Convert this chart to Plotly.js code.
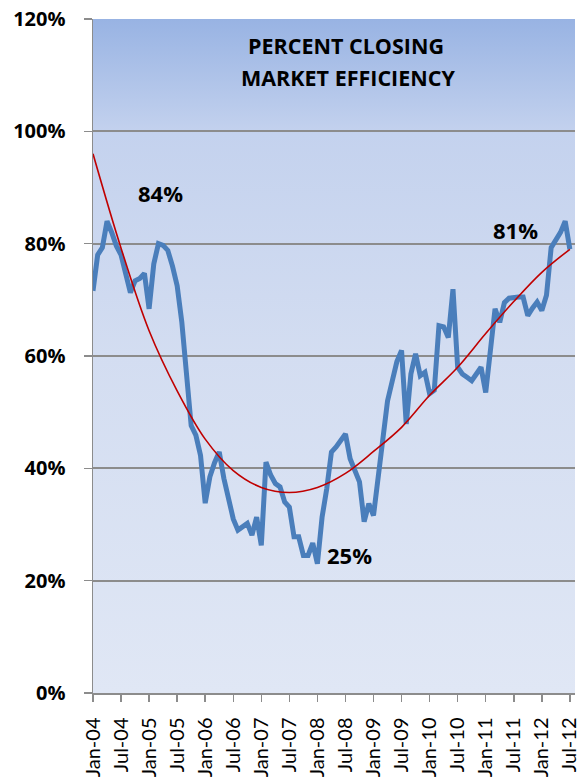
<!DOCTYPE html>
<html>
<head>
<meta charset="utf-8">
<script src="https://cdn.plot.ly/plotly-3.0.1.min.js"></script>
<style>
  html, body { margin: 0; padding: 0; background: #ffffff; }
  #wrap { position: relative; width: 582px; height: 780px; overflow: hidden; }
  #bg { position: absolute; left: 93px; top: 19px; width: 482px; height: 674px;
        background: linear-gradient(to bottom, #98b3e3 0%, #c4d2ee 17%, #d3ddf1 50%, #e0e7f5 100%); }
  #chart { position: absolute; left: 0; top: 0; width: 582px; height: 780px; }
</style>
</head>
<body>
<div id="wrap">
  <div id="bg"></div>
  <div id="chart"></div>
</div>
<script>
// Monthly percent closing market efficiency, Jan-04 .. Jul-12
const values2004 = [71.6, 78, 79.3, 84, 82, 79.6, 78, 75, 71.3, 73.4, 73.8, 74.7];
const values2005 = [68.4, 76.4, 80, 79.7, 78.8, 76, 72.5, 66, 57.5, 47.6, 45.9, 42.3];
const values2006 = [33.8, 38.5, 41, 42.9, 38.2, 35, 31, 29, 29.6, 30.2, 28.1, 31.3];
const values2007 = [26.3, 41.1, 38.8, 37.3, 36.7, 34, 33.1, 27.8, 27.8, 24.5, 24.5, 26.7];
const values2008 = [23, 31.3, 36.4, 42.9, 43.8, 45, 46.1, 41.7, 39.5, 37.6, 30.5, 33.7];
const values2009 = [31.6, 38.5, 46, 52, 55.5, 59, 61, 47.9, 56.8, 60.4, 56.5, 57.1];
const values2010 = [53.3, 53.9, 65.4, 65.2, 63.3, 71.9, 58, 56.8, 56.2, 55.6, 56.8, 58];
const values2011 = [53.5, 62, 68.4, 66, 69.5, 70.3, 70.5, 70.5, 70.5, 67.2, 68.5, 69.6];
const values2012 = [68.1, 70.8, 79.3, 80.5, 82, 84, 79];

const efficiency = [].concat(values2004, values2005, values2006, values2007,
                             values2008, values2009, values2010, values2011, values2012);
const monthIndex = efficiency.map((_, i) => i);

// Polynomial trend line every six months
const trendMonths = [0, 6, 12, 18, 24, 30, 36, 42, 48, 54, 60, 66, 72, 78, 84, 90, 96, 102];
const trendValues = [96, 79.2, 64.5, 53.8, 45.2, 39.6, 36.6, 35.7, 36.6, 39.1, 43, 47.3, 53, 58, 64, 69.7, 74.9, 79];

const tickMonths = [0, 6, 12, 18, 24, 30, 36, 42, 48, 54, 60, 66, 72, 78, 84, 90, 96, 102];
const tickLabels = ['Jan-04','Jul-04','Jan-05','Jul-05','Jan-06','Jul-06','Jan-07','Jul-07','Jan-08',
                    'Jul-08','Jan-09','Jul-09','Jan-10','Jul-10','Jan-11','Jul-11','Jan-12','Jul-12'];

const yTicks = [0, 20, 40, 60, 80, 100, 120];
const yTickLabels = ['0%', '20%', '40%', '60%', '80%', '100%', '120%'];

const titleLines = ['PERCENT CLOSING', 'MARKET EFFICIENCY'];
const callouts = [
  { text: '84%', month: 14.5, value: 89 },
  { text: '81%', month: 90.3, value: 82.4 },
  { text: '25%', month: 54.8, value: 24.6 }
];

const FONT = 'Lato, "Open Sans", "Liberation Sans", sans-serif';
const BOLDFONT = '"Open Sans", "Noto Sans", sans-serif';
const GRID = '#8c8c8c';
const bold = s => '<b>' + s + '</b>';

const traces = [
  {
    x: monthIndex, y: efficiency, type: 'scatter', mode: 'lines',
    line: { color: '#4a7ebb', width: 5 }, hoverinfo: 'skip'
  },
  {
    x: trendMonths, y: trendValues, type: 'scatter', mode: 'lines',
    line: { color: '#c00000', width: 1.6, shape: 'spline', smoothing: 1.0 }, hoverinfo: 'skip'
  }
];

const annotations = [
  { text: bold(titleLines[0]), xref: 'paper', yref: 'paper', x: 0.525, y: 0.961, showarrow: false,
    xanchor: 'center', yanchor: 'middle', font: { family: BOLDFONT, size: 21.5, color: '#000' } },
  { text: bold(titleLines[1]), xref: 'paper', yref: 'paper', x: 0.529, y: 0.913, showarrow: false,
    xanchor: 'center', yanchor: 'middle', font: { family: BOLDFONT, size: 21.5, color: '#000' } }
].concat(callouts.map(c => ({
  text: bold(c.text), xref: 'x', yref: 'y', x: c.month, y: c.value, showarrow: false,
  xanchor: 'center', yanchor: 'middle', font: { family: BOLDFONT, size: 22, color: '#000' }
})));

const layout = {
  width: 582, height: 780,
  margin: { l: 93, r: 7, t: 19, b: 87, pad: 0 },
  paper_bgcolor: 'rgba(0,0,0,0)',
  plot_bgcolor: 'rgba(0,0,0,0)',
  showlegend: false,
  xaxis: {
    range: [0, 103.1], tickmode: 'array', tickvals: tickMonths, ticktext: tickLabels,
    tickangle: -90, ticks: 'outside', ticklen: 7, tickwidth: 1.5, tickcolor: GRID,
    showline: true, linecolor: GRID, linewidth: 1.5, showgrid: false, zeroline: false,
    tickfont: { family: FONT, size: 20, color: '#000' }, ticklabelstandoff: 8
  },
  yaxis: {
    range: [0, 120], tickmode: 'array', tickvals: yTicks, ticktext: yTickLabels.map(bold),
    ticks: 'outside', ticklen: 8, tickwidth: 1.5, tickcolor: GRID,
    showline: true, linecolor: GRID, linewidth: 1.5,
    showgrid: true, gridcolor: GRID, gridwidth: 1.8, zeroline: false,
    tickfont: { family: BOLDFONT, size: 20, color: '#000' }, ticklabelstandoff: 14
  },
  annotations: annotations
};

Plotly.newPlot('chart', traces, layout, { displayModeBar: false, staticPlot: true });
</script>
</body>
</html>
